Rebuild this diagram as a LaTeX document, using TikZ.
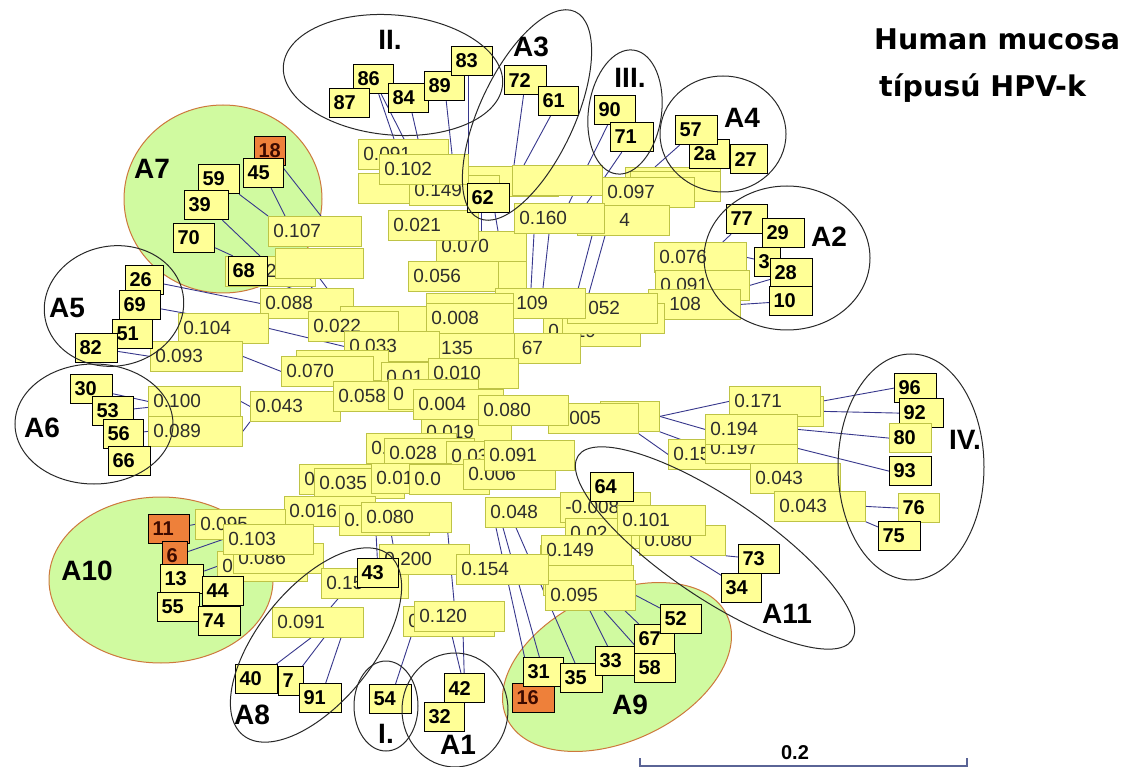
\documentclass[tikz,border=0pt]{standalone}
\usepackage{fontspec}
\setmainfont{Liberation Sans}
\newfontfamily\titlefamily{DejaVu Sans}
\usetikzlibrary{shapes.geometric}
\definecolor{yfill}{RGB}{255,255,150}
\definecolor{brdraw}{RGB}{190,195,70}
\definecolor{brtext}{RGB}{45,45,45}
\definecolor{orfill}{RGB}{238,128,58}
\definecolor{ortext}{RGB}{60,10,0}
\definecolor{gfill}{RGB}{208,250,160}
\definecolor{gdraw}{RGB}{205,120,60}
\definecolor{ellc}{RGB}{40,40,40}
\definecolor{linec}{RGB}{55,55,140}
\definecolor{scalec}{RGB}{90,100,150}
\pgfdeclarelayer{gbg}\pgfdeclarelayer{lbg}\pgfdeclarelayer{front}
\pgfsetlayers{gbg,lbg,main,front}
\newcommand\brfont{\fontsize{19}{19}\selectfont}
\newcommand\leaffont{\fontsize{20}{20}\selectfont\bfseries}
\newcommand\clabfont{\fontsize{28}{28}\selectfont\bfseries}
\tikzset{
  brbox/.style={draw=brdraw, fill=yfill, line width=0.8pt, font=\brfont, text=brtext, inner xsep=5pt, inner ysep=0pt, minimum height=30pt, align=left},
  leafbox/.style={draw=black, fill=yfill, line width=1.2pt, font=\leaffont, inner xsep=4pt, inner ysep=0pt, minimum height=29pt, align=left},
  clus/.style={ellipse, draw=ellc, line width=1pt, inner sep=0pt},
  gclus/.style={ellipse, draw=gdraw, fill=gfill, line width=1pt, inner sep=0pt},
  brl/.style={draw=linec, line width=0.9pt},
  clab/.style={font=\clabfont, inner sep=0pt},
}
\newcommand\branchnode[5][90]{\pgfmathsetmacro\tw{#1-10}\node[brbox, text width=\tw pt, anchor=north west] (#2) at (#3,#4) {#5};}
\newcommand\leafnode[6][]{\pgfmathsetmacro\tw{#5-8}\node[leafbox, text width=\tw pt, anchor=north west, #1] (#2) at (#3,#4) {#6};}
\begin{document}
\begin{tikzpicture}[x=1pt,y=-1pt]
\useasboundingbox (0,0) rectangle (1122,767);
\begin{pgfonlayer}{gbg}
\fill[white] (0,0) rectangle (1122,767);
\node[gclus, minimum width=198pt, minimum height=188pt] (eA7) at (223,199) {};
\node[gclus, minimum width=224pt, minimum height=166pt] (eA10) at (161,580) {};
\node[gclus, minimum width=243pt, minimum height=148pt, rotate=25] (eA9) at (617,667) {};
\end{pgfonlayer}

% ---------- branch boxes (back to front) ----------
\branchnode{bA}{358}{139}{0.091}
\branchnode{bB}{358}{173}{}
\branchnode[100]{bC}{458}{166}{}
\branchnode{bD}{512}{165}{}
\branchnode{b149}{409}{175}{0.149}
\branchnode[89]{b102}{379}{154}{0.102}
\branchnode{b070}{436}{231}{0.070}
\branchnode{b021}{388}{210}{0.021}
\branchnode[95]{bE}{625}{167}{}
\branchnode{bF}{630}{171}{}
\branchnode[92]{b097}{602}{177}{0.097}
\branchnode[92]{b034}{577}{205}{\phantom{0.03}4}
\branchnode{b160}{514}{203}{0.160}

\branchnode{b112}{225}{256}{\phantom{0.11}2}
\branchnode[88]{bG}{275}{248}{}
\branchnode[93]{b107}{268}{216}{0.107}
\branchnode[93]{b088}{260}{288}{0.088}
\branchnode{b104}{178}{313}{0.104}
\branchnode[92]{b093}{150}{341}{0.093}
\branchnode{bH}{340}{306}{}
\branchnode{b022}{308}{311}{0.022}
\branchnode[56]{bI}{470}{261}{}
\branchnode{b056}{408}{261}{0.056}

\branchnode[92]{b076}{654}{242}{0.076}
\branchnode[94]{b091r}{655}{270}{0.091}
\branchnode[92]{b108}{648}{289}{\phantom{0.}108}
\branchnode[97]{b019}{543}{316}{0.019}
\branchnode[102]{bJ}{562}{303}{}
\branchnode{b052}{567}{293}{\phantom{0.}052}
\branchnode{b109}{495}{288}{\phantom{0.}109}
\branchnode[87]{bK}{426}{293}{}
\branchnode[87]{b008}{426}{303}{0.008}

\branchnode{b067}{490}{333}{\phantom{0.0}67}
\branchnode[94]{b135}{420}{333}{\phantom{0.}135}
\branchnode[95]{b033}{344}{331}{0.033}
\branchnode[92]{bL}{296}{350}{}
\branchnode[92]{b070b}{281}{356}{0.070}
\branchnode{b043}{250}{391}{0.043}
\branchnode[92]{b100}{148}{386}{0.100}
\branchnode[94]{b089}{148}{416}{0.089}

\branchnode[88]{b013}{381}{362}{0.01\phantom{3}}
\branchnode{b010}{428}{358}{0.010}
\branchnode{b058}{333}{381}{0.058}
\branchnode{b012}{388}{379}{0\phantom{.012}}
\branchnode{b0192}{421}{417}{0.019}
\branchnode{b004}{413}{389}{0.004}
\branchnode[59]{bM}{600}{401}{}
\branchnode{b005}{548}{403}{\phantom{0.}005}
\branchnode{b080}{478}{395}{0.080}

\branchnode{b026}{366}{433}{0.\phantom{026}}
\branchnode{b028}{384}{438}{0.028}
\branchnode{b037}{446}{441}{0.03\phantom{7}}
\branchnode[72]{bN}{299}{464}{0\phantom{.011}}
\branchnode{b035}{314}{468}{0.035}
\branchnode[80]{b010b}{371}{463}{0.01\phantom{0}}
\branchnode[80]{b009}{409}{464}{0.0\phantom{09}}
\branchnode[92]{b006}{463}{459}{0.006}
\branchnode{b091c}{484}{440}{0.091}

\branchnode[91]{b016}{284}{496}{0.016}
\branchnode{b044}{339}{505}{0.\phantom{044}}
\branchnode{b080l}{361}{502}{0.080}
\branchnode{b048}{485}{497}{0.048}
\branchnode{b008n}{560}{492}{-0.008}
\branchnode{b021b}{565}{518}{0.02\phantom{1}}
\branchnode[86]{b080r}{639}{525}{0.080}
\branchnode[88]{b101}{617}{505}{0.101}
\branchnode{b142}{540}{545}{}
\branchnode{bO}{543}{565}{}
\branchnode{b149b}{541}{535}{0.149}
\branchnode{b095l}{545}{580}{0.095}

\branchnode{b095}{195}{509}{0.095}
\branchnode{bP}{217}{551}{0\phantom{.079}}
\branchnode{b086}{233}{543}{0.086}
\branchnode{b103}{223}{524}{0.103}

\branchnode[87]{b152}{321}{568}{0.15\phantom{2}}
\branchnode{b200}{379}{544}{0.200}
\branchnode[91]{b091l}{272}{607}{0.091}
\branchnode[91]{b121}{403}{606}{0\phantom{.121}}
\branchnode{b120}{414}{601}{0.120}
\branchnode[92]{b154}{456}{554}{0.154}

\branchnode[93]{b171bk}{730}{396}{}
\branchnode[91]{b171}{729}{386}{0.171}
\branchnode[91]{b151}{668}{439}{0.15\phantom{1}}
\branchnode[92]{b197}{705}{433}{0.197}
\branchnode[92]{b194}{705}{414}{0.194}
\branchnode{b043r}{750}{463}{0.043}
\branchnode[91]{b043s}{774}{491}{0.043}

% ---------- leaves ----------
\leafnode{l86}{353}{64}{40}{86}
\leafnode{l84}{388}{83}{40}{84}
\leafnode{l89}{424}{71}{40}{89}
\leafnode{l83}{451}{46}{41}{83}
\leafnode{l87}{329}{88}{40}{87}
\leafnode{l72}{504}{65}{42}{72}
\leafnode{l61}{538}{86}{40}{61}
\leafnode{l62}{467}{183}{42}{62}
\leafnode{l90}{594}{95}{41}{90}
\leafnode{l71}{610}{122}{43}{71}
\leafnode{l2a}{689}{139}{40}{2a}
\leafnode{l27}{730}{144}{37}{27}
\leafnode{l57}{675}{115}{42}{57}
\leafnode{l77}{726}{204}{41}{77}
\leafnode{l29}{762}{218}{42}{29}
\leafnode{l3}{754}{247}{26}{3}
\leafnode{l28}{770}{258}{42}{28}
\leafnode{l10}{769}{286}{43}{10}

\leafnode[fill=orfill,text=ortext]{l18}{254}{136}{31}{18}
\leafnode{l45}{243}{158}{40}{45}
\leafnode{l59}{198}{164}{41}{59}
\leafnode{l39}{184}{190}{44}{39}
\leafnode{l70}{173}{223}{41}{70}
\leafnode{l68}{228}{256}{39}{68}
\leafnode{l26}{125}{265}{38}{26}
\leafnode{l69}{119}{290}{41}{69}
\leafnode{l51}{112}{319}{40}{51}
\leafnode{l82}{75}{333}{42}{82}
\leafnode{l30}{70}{374}{42}{30}
\leafnode{l53}{92}{396}{41}{53}
\leafnode{l56}{103}{419}{40}{56}
\leafnode{l66}{108}{446}{42}{66}

\leafnode[fill=orfill,text=ortext]{l11}{148}{514}{41}{11}
\leafnode[fill=orfill,text=ortext]{l6}{162}{541}{25}{6}
\leafnode{l13}{160}{564}{43}{13}
\leafnode{l55}{157}{592}{42}{55}
\leafnode{l44}{202}{576}{41}{44}
\leafnode{l74}{198}{606}{42}{74}
\leafnode{l40}{235}{664}{42}{40}
\leafnode{l7}{278}{666}{25}{7}
\leafnode{l91}{299}{683}{42}{91}
\leafnode{l43}{357}{558}{41}{43}
\leafnode{l54}{369}{684}{42}{54}
\leafnode{l42}{444}{673}{40}{42}
\leafnode{l32}{424}{702}{40}{32}
\leafnode[fill=orfill,text=ortext]{l16}{512}{683}{42}{16}
\leafnode{l31}{523}{657}{40}{31}
\leafnode{l35}{560}{663}{42}{35}
\leafnode{l33}{595}{646}{39}{33}
\leafnode{l67}{634}{624}{40}{67}
\leafnode{l58}{634}{653}{41}{58}
\leafnode{l52}{660}{604}{41}{52}
\leafnode{l73}{738}{544}{41}{73}
\leafnode{l34}{721}{573}{40}{34}
\leafnode{l64}{590}{472}{43}{64}

\leafnode{l96}{894}{373}{42}{96}
\leafnode{l92}{899}{398}{44}{92}
\leafnode[draw=brdraw]{l80}{889}{423}{42}{80}
\leafnode{l93}{889}{456}{42}{93}
\leafnode[draw=brdraw]{l76}{898}{493}{41}{76}
\leafnode{l75}{878}{521}{42}{75}

% ---------- connectors ----------
\begin{pgfonlayer}{lbg}
\draw[brl] (l86) -- ([xshift=36pt]bA.north west);
\draw[brl] (l86) -- ([xshift=46pt]bA.north west);
\draw[brl] (l84) -- ([xshift=60pt]bA.north west);
\draw[brl] (l89) -- ([xshift=73pt]b102.north west);
\draw[brl] ([xshift=17pt]l83.south west) -- ([xshift=10pt]bC.north west);
\draw[brl] (l72) -- ([xshift=2pt]bD.north west);
\draw[brl] (l61) -- ([xshift=12pt]bD.north west);
\draw[brl] ([xshift=14pt]l62.south west) -- ([xshift=45pt]b070.north west);
\draw[brl] ([xshift=28pt]l62.south west) -- ([xshift=62pt]b070.north west);
\draw[brl] (l90) -- ([xshift=55pt]b160.north west);
\draw[brl] (l71) -- ([xshift=73pt]b160.north west);
\draw[brl] ([xshift=20pt]b160.south west) -- ([xshift=36pt]b109.north west);
\draw[brl] ([xshift=35pt]b160.south west) -- ([xshift=48pt]b109.north west);
\draw[brl] ([xshift=15pt]b034.south west) -- ([xshift=10pt]b052.north west);
\draw[brl] ([xshift=28pt]b034.south west) -- ([xshift=22pt]b052.north west);
\draw[brl] (l57) -- ([xshift=30pt]bE.north west);
\draw[brl] (l77) -- ([xshift=-24pt]b076.north east);
\draw[brl] (l3) -- (b076.east);
\draw[brl] (l28) -- (b091r.east);
\draw[brl] (l10) -- (b108.east);
\draw[brl] (l45) -- ([xshift=17pt]b107.north west);
\draw[brl] (l18) -- ([xshift=53pt]b107.north west);
\draw[brl] (l59) -- (b107.north west);
\draw[brl] (l39) -- ([xshift=35pt]b112.north west);
\draw[brl] (l70) -- ([xshift=8pt]b112.north west);
\draw[brl] (l68) -- ([xshift=40pt]b022.north west);
\draw[brl] ([xshift=30pt]bG.south west) -- ([xshift=22pt]b022.north west);
\draw[brl] ([xshift=45pt]bG.south west) -- ([xshift=36pt]b022.north west);
\draw[brl] (l26) -- (b088.west);
\draw[brl] (l69) -- (b104.east);
\draw[brl] (l82) -- (b093.west);
\draw[brl] (b093.east) -- (b070b.west);
\draw[brl] (b104.east) -- (b033.west);
\draw[brl] (l30) -- (b100.west);
\draw[brl] (l53) -- ([yshift=-6pt]b100.west);
\draw[brl] (l56) -- (b089.west);
\draw[brl] (b100.east) -- (b043.west);
\draw[brl] (b089.east) -- (b043.south west);
\draw[brl] (l11) -- (b095.west);
\draw[brl] (l6) -- (b103.west);
\draw[brl] (l13) -- (bP.west);
\draw[brl] (l44) -- ([xshift=22pt]b086.south west);
\draw[brl] (l40) -- ([xshift=39pt]b091l.south west);
\draw[brl] (l7) -- ([xshift=52pt]b091l.south west);
\draw[brl] (l91) -- ([xshift=69pt]b091l.south west);
\draw[brl] ([xshift=59pt]b091l.north west) -- ([xshift=17pt]b152.south west);
\draw[brl] (l43) -- ([xshift=15pt]b080l.south west);
\draw[brl] ([xshift=30pt]b080l.south west) -- ([xshift=14pt]b200.north west);
\draw[brl] (l54) -- ([xshift=8pt]b121.south west);
\draw[brl] (l42) -- ([xshift=37pt]b120.south west);
\draw[brl] (l42) -- ([xshift=49pt]b120.south west);
\draw[brl] ([xshift=-4pt]b080l.south east) -- ([xshift=40pt]b120.north west);
\draw[brl] (l16) -- ([xshift=11pt]b048.south west);
\draw[brl] (l31) -- ([xshift=18pt]b048.south west);
\draw[brl] (l35) -- ([xshift=31pt]b048.south west);
\draw[brl] (l33) -- ([xshift=45pt]b095l.south west);
\draw[brl] (l58) -- ([xshift=59pt]b095l.south west);
\draw[brl] (l67) -- ([xshift=80pt]b095l.south west);
\draw[brl] (l52) -- (b095l.east);
\draw[brl] (l73) -- (b080r.south east);
\draw[brl] (l34) -- ([xshift=51pt]b080r.south west);
\draw[brl] (l96.west) -- (b171.east);
\draw[brl] (l92.west) -- (b171bk.east);
\draw[brl] (l80.west) -- (b194.east);
\draw[brl] (l93.west) -- (b197.east);
\draw[brl] (l76.west) -- (b043s.east);
\draw[brl] (l75) -- (b043s.south east);
\draw[brl] (bM.east) -- (b171.west);
\draw[brl] (bM.east) -- (b194.west);
\draw[brl] (bM.south east) -- (b197.west);
\draw[brl] (b005.south east) -- (b151.west);
\end{pgfonlayer}

% ---------- cluster outlines and labels ----------
\begin{pgfonlayer}{front}
\node[clus, minimum width=220pt, minimum height=120pt, rotate=-5] (eII) at (393,75) {};
\node[clus, minimum width=95pt, minimum height=228pt, rotate=-25] (eA3) at (527,115) {};
\node[clus, minimum width=73pt, minimum height=125pt, rotate=-8] (eIII) at (625,112) {};
\node[clus, minimum width=126pt, minimum height=116pt] (eA4) at (723,134) {};
\node[clus, minimum width=166pt, minimum height=144pt] (eA2) at (787,258) {};
\node[clus, minimum width=140pt, minimum height=120pt, rotate=10] (eA5) at (114,306) {};
\node[clus, minimum width=158pt, minimum height=120pt] (eA6) at (94,424) {};
\node[clus, minimum width=146pt, minimum height=226pt] (eIV) at (911,467) {};
\node[clus, minimum width=115pt, minimum height=232pt, rotate=-39] (eA8) at (316,645) {};
\node[clus, minimum width=64pt, minimum height=90pt] (eI) at (386,706) {};
\node[clus, minimum width=106pt, minimum height=114pt] (eA1) at (455,710) {};
\node[clus, minimum width=330pt, minimum height=100pt, rotate=-34] (eA11) at (715,548) {};

\node[clab] (tII) at (390,40) {II.};
\node[clab] (tA3) at (531,47) {A3};
\node[clab] (tIII) at (630,78) {III.};
\node[clab] (tA4) at (742,118) {A4};
\node[clab] (tA2) at (829,237) {A2};
\node[clab] (tA7) at (152,169) {A7};
\node[clab] (tA5) at (67,308) {A5};
\node[clab] (tA6) at (42,428) {A6};
\node[clab] (tA10) at (87,571) {A10};
\node[clab] (tA8) at (252,715) {A8};
\node[clab] (tI) at (386,734) {I.};
\node[clab] (tA1) at (458,745) {A1};
\node[clab] (tA9) at (630,705) {A9};
\node[clab] (tA11) at (787,614) {A11};
\node[clab] (tIV) at (965,440) {IV.};

\node[anchor=base west, inner sep=0pt, font=\titlefamily\bfseries\fontsize{28.5}{28.5}\selectfont] (title1) at (874,50) {Human mucosa};
\node[anchor=base west, inner sep=0pt, font=\titlefamily\bfseries\fontsize{28.5}{28.5}\selectfont] (title2) at (879,97) {típusú HPV-k};

\coordinate (s1) at (640,758);
\coordinate (s2) at (640,766);
\coordinate (s3) at (967,766);
\coordinate (s4) at (967,758);
\draw[draw=scalec, line width=1.2pt] (s1) -- (s2) -- (s3) -- (s4);
\node[inner sep=0pt, font=\bfseries\fontsize{20}{20}\selectfont] (sl) at (795,753) {0.2};
\end{pgfonlayer}
\end{tikzpicture}
\end{document}
